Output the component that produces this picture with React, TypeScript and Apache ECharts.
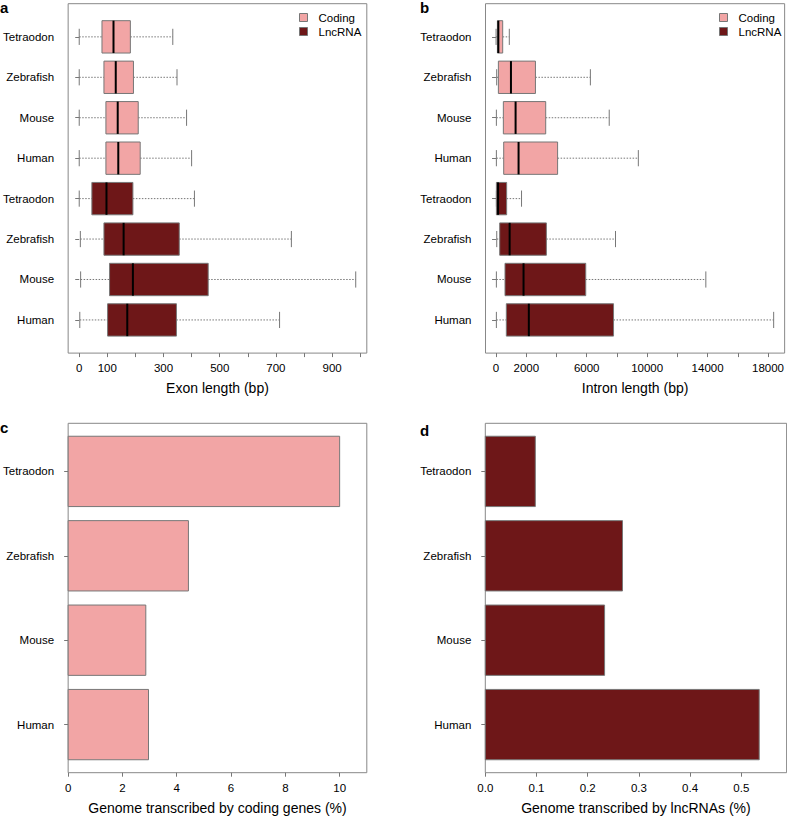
import React, { useEffect, useRef } from "react";
import * as echarts from "echarts";

// ---------- data ----------
const species = ["Tetraodon", "Zebrafish", "Mouse", "Human"]; // top to bottom
const groups = ["Coding", "LncRNA"];

// [min whisker, Q1, median, Q3, max whisker]
const exonCodingStats = [
  [0, 81, 122, 182, 333],
  [0, 88, 130, 193, 348],
  [0, 95, 137, 210, 382],
  [0, 95, 139, 217, 400],
];
const exonLncStats = [
  [0, 45, 97, 191, 410],
  [4, 88, 158, 356, 755],
  [5, 108, 191, 459, 984],
  [2, 101, 171, 346, 713],
];
const intronCodingStats = [
  [0, 88, 150, 438, 876],
  [40, 153, 985, 2606, 6242],
  [20, 482, 1292, 3285, 7490],
  [20, 504, 1489, 4073, 9417],
];
const intronLncStats = [
  [20, 20, 131, 700, 1686],
  [44, 241, 898, 3329, 7906],
  [20, 591, 1818, 5935, 13885],
  [20, 679, 2168, 7775, 18374],
];
const codingGenomePct = [10.0, 4.43, 2.86, 2.96];
const lncGenomePct = [0.0977, 0.268, 0.233, 0.535];

const exonTicks = [0, 100, 200, 300, 400, 500, 600, 700, 800, 900, 1000];
const exonLabels = [0, 100, 300, 500, 700, 900];
const intronTicks = [0, 2000, 4000, 6000, 8000, 10000, 12000, 14000, 16000, 18000];
const intronLabels = [0, 2000, 6000, 10000, 14000, 18000];
const codingPctTicks = [0, 2, 4, 6, 8, 10];
const lncPctTicks = [0, 0.1, 0.2, 0.3, 0.4, 0.5];

// ---------- styling ----------
const FONT = "'Liberation Sans', Arial, Helvetica, sans-serif";
const CODING = "#F2A5A5";
const LNC = "#6E1718";
const EDGE = "#777777";
const FRAME = "#888888";
const TICK_FS = 11.5;
const TITLE_FS = 14;

const BOX_HALF = 0.4;
const CAP_HALF = 0.2;

// box rows: coding at 8..5, lncRNA at 4..1
const boxRows = (stats: number[][], offset: number) =>
  stats.map((s, i) => [offset - i, ...s]);
// bar rows: barplot positions (width 1, space 0.2), human at bottom
const barPos = (i: number) => 0.7 + 1.2 * (species.length - 1 - i);
const barRows = (vals: number[]) => vals.map((v, i) => [barPos(i), v]);

const boxLabel = (v: number) => species[(8 - Math.round(v)) % 4];
const barLabel = (v: number) => species[species.length - 1 - Math.round((v - 0.7) / 1.2)];

const makeBoxRender = (fill: string) => (_params: any, api: any) => {
  const pos = api.value(0);
  const xs = [1, 2, 3, 4, 5].map((i) => api.coord([api.value(i), pos])[0]);
  const y = api.coord([api.value(1), pos])[1];
  const half = api.size([0, BOX_HALF])[1];
  const cap = api.size([0, CAP_HALF])[1];
  const [xMin, xQ1, xMed, xQ3, xMax] = xs;
  const whisk = { stroke: EDGE, lineWidth: 1, lineDash: [1.5, 1.5] };
  const solid = { stroke: EDGE, lineWidth: 1 };
  return {
    type: "group",
    children: [
      { type: "line", shape: { x1: xMin, y1: y, x2: xQ1, y2: y }, style: whisk },
      { type: "line", shape: { x1: xQ3, y1: y, x2: xMax, y2: y }, style: whisk },
      { type: "line", shape: { x1: xMin, y1: y - cap, x2: xMin, y2: y + cap }, style: solid },
      { type: "line", shape: { x1: xMax, y1: y - cap, x2: xMax, y2: y + cap }, style: solid },
      {
        type: "rect",
        shape: { x: xQ1, y: y - half, width: xQ3 - xQ1, height: 2 * half },
        style: { fill, stroke: EDGE, lineWidth: 1 },
      },
      { type: "line", shape: { x1: xMed, y1: y - half, x2: xMed, y2: y + half }, style: { stroke: "#000", lineWidth: 2 } },
    ],
  };
};

const makeBarRender = (fill: string) => (_params: any, api: any) => {
  const pos = api.value(0);
  const p0 = api.coord([0, pos]);
  const p1 = api.coord([api.value(1), pos]);
  const h = api.size([0, 1])[1];
  return {
    type: "rect",
    shape: { x: p0[0], y: p0[1] - h / 2, width: p1[0] - p0[0], height: h },
    style: { fill, stroke: EDGE, lineWidth: 1 },
  };
};

const gridBase = { show: true, borderColor: FRAME, borderWidth: 1, backgroundColor: "transparent", containLabel: false };

const xAxisBase = (gridIndex: number, min: number, max: number, ticks: number[], labels: number[], name: string, fmt?: (v: number) => string) => ({
  type: "value",
  gridIndex,
  min,
  max,
  axisLine: { show: false },
  splitLine: { show: false },
  axisTick: { show: true, length: 4, customValues: ticks, lineStyle: { color: EDGE } },
  axisLabel: {
    customValues: labels,
    margin: 9,
    fontSize: TICK_FS,
    fontFamily: FONT,
    color: "#000",
    formatter: fmt ? (v: number) => fmt(v) : (v: number) => String(v),
  },
  name,
  nameLocation: "middle",
  nameGap: 28,
  nameTextStyle: { fontSize: TITLE_FS, fontFamily: FONT, color: "#000" },
});

const yAxisBase = (gridIndex: number, min: number, max: number, vals: number[], fmt: (v: number) => string) => ({
  type: "value",
  gridIndex,
  min,
  max,
  axisLine: { show: false },
  splitLine: { show: false },
  axisTick: { show: true, length: 4, customValues: vals, lineStyle: { color: EDGE } },
  axisLabel: { customValues: vals, margin: 14, fontSize: TICK_FS, fontFamily: FONT, color: "#000", formatter: fmt },
});

const legendBase = (left: number) => ({
  orient: "vertical",
  left,
  top: 10.5,
  padding: 0,
  itemWidth: 8,
  itemHeight: 8,
  itemGap: 0,
  selectedMode: false,
  textStyle: { fontSize: TICK_FS, fontFamily: FONT, color: "#000", lineHeight: 14, padding: [0, 0, 0, 6] },
  data: [
    { name: groups[0], icon: "rect", itemStyle: { color: CODING, borderColor: EDGE, borderWidth: 1 } },
    { name: groups[1], icon: "rect", itemStyle: { color: LNC, borderColor: EDGE, borderWidth: 1 } },
  ],
});

const panelLabel = (text: string, x: number, y: number) => ({
  type: "text",
  x,
  y,
  style: { text, font: `bold 15px ${FONT}`, fill: "#000", verticalAlign: "middle", align: "left" },
});

export default function App() {
  const ref = useRef<HTMLDivElement>(null);
  useEffect(() => {
    if (!ref.current) return;
    const chart = echarts.init(ref.current, null, { renderer: "svg" });
    const option: any = {
      animation: false,
      textStyle: { fontFamily: FONT },
      grid: [
        { ...gridBase, left: 65.3, top: 3.7, width: 301.5, height: 349.4 },
        { ...gridBase, left: 485.5, top: 3.7, width: 301.3, height: 349.4 },
        { ...gridBase, left: 65.3, top: 423.3, width: 301.5, height: 349.4 },
        { ...gridBase, left: 485.3, top: 423.3, width: 301.3, height: 349.4 },
      ],
      xAxis: [
        xAxisBase(0, -39.4, 1023.4, exonTicks, exonLabels, "Exon length (bp)"),
        xAxisBase(1, -700, 19100, intronTicks, intronLabels, "Intron length (bp)"),
        xAxisBase(2, 0, 11.0, codingPctTicks, codingPctTicks, "Genome transcribed by coding genes (%)"),
        xAxisBase(3, 0, 0.5885, lncPctTicks, lncPctTicks, "Genome transcribed by lncRNAs (%)", (v) => v.toFixed(1)),
      ],
      yAxis: [
        yAxisBase(0, 0.18, 8.82, [1, 2, 3, 4, 5, 6, 7, 8], boxLabel),
        yAxisBase(1, 0.18, 8.82, [1, 2, 3, 4, 5, 6, 7, 8], boxLabel),
        yAxisBase(2, 0.016, 4.984, species.map((_, i) => barPos(i)), barLabel),
        yAxisBase(3, 0.016, 4.984, species.map((_, i) => barPos(i)), barLabel),
      ],
      legend: [legendBase(299), legendBase(719)],
      series: [
        { type: "custom", name: groups[0], xAxisIndex: 0, yAxisIndex: 0, itemStyle: { color: CODING }, renderItem: makeBoxRender(CODING), encode: { x: [1, 2, 3, 4, 5], y: 0 }, data: boxRows(exonCodingStats, 8) },
        { type: "custom", name: groups[1], xAxisIndex: 0, yAxisIndex: 0, itemStyle: { color: LNC }, renderItem: makeBoxRender(LNC), encode: { x: [1, 2, 3, 4, 5], y: 0 }, data: boxRows(exonLncStats, 4) },
        { type: "custom", name: groups[0], xAxisIndex: 1, yAxisIndex: 1, itemStyle: { color: CODING }, renderItem: makeBoxRender(CODING), encode: { x: [1, 2, 3, 4, 5], y: 0 }, data: boxRows(intronCodingStats, 8) },
        { type: "custom", name: groups[1], xAxisIndex: 1, yAxisIndex: 1, itemStyle: { color: LNC }, renderItem: makeBoxRender(LNC), encode: { x: [1, 2, 3, 4, 5], y: 0 }, data: boxRows(intronLncStats, 4) },
        { type: "custom", name: "Coding genes", xAxisIndex: 2, yAxisIndex: 2, renderItem: makeBarRender(CODING), encode: { x: 1, y: 0 }, data: barRows(codingGenomePct) },
        { type: "custom", name: "lncRNAs", xAxisIndex: 3, yAxisIndex: 3, renderItem: makeBarRender(LNC), encode: { x: 1, y: 0 }, data: barRows(lncGenomePct) },
      ],
      graphic: [
        panelLabel("a", 0, 7.5),
        panelLabel("b", 420, 7.5),
        panelLabel("c", 0, 427),
        panelLabel("d", 420, 430.3),
      ],
    };
    chart.setOption(option);
    return () => chart.dispose();
  }, []);
  return <div ref={ref} style={{ position: "absolute", left: 0, top: 0, width: 787, height: 817 }} />;
}
